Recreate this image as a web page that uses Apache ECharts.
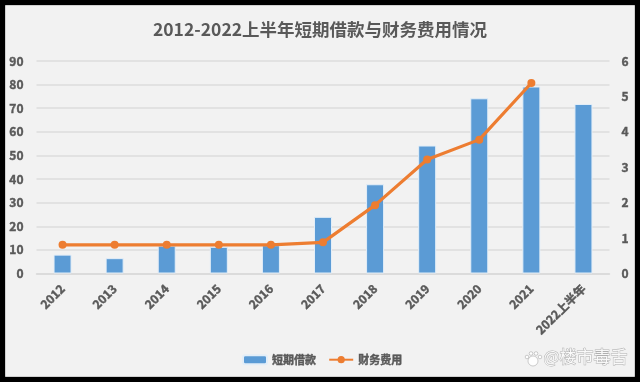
<!DOCTYPE html>
<html>
<head>
<meta charset="utf-8">
<script src="https://cdn.jsdelivr.net/npm/echarts@6/dist/echarts.min.js"></script>
<style>
html,body{margin:0;padding:0;background:#000;}
#main{width:640px;height:382px;}
</style>
</head>
<body>
<div id="main"></div>
<script>
var years = ['2012','2013','2014','2015','2016','2017','2018','2019','2020','2021','2022上半年'];
var shortLoan = [8,6.5,11.8,11.3,12,24,37.8,54.2,74.2,79.2,71.8];
var financeCost = [0.81,0.81,0.81,0.81,0.81,0.88,1.93,3.22,3.78,5.38,null];
var fontName = '"Noto Sans CJK SC"';
var textColor = '#595959';
// 粗一点的文字
var thick = {textBorderColor: textColor, textBorderWidth: 0.4};
var pawStyle = {fill: 'rgba(255,255,255,0.9)', stroke: 'rgba(140,140,140,0.6)', lineWidth: 0.7};

var myChart = echarts.init(document.getElementById('main'));
myChart.setOption({
    backgroundColor: '#000',
    animation: false,
    graphic: [
        {
            type: 'rect', z: -10,
            shape: {x: 5.5, y: 5.5, width: 629, height: 371},
            style: {fill: '#f2f2f2', stroke: '#d0d0d0', lineWidth: 1}
        },
        // 水印
        {type: 'circle', shape: {cx: 533, cy: 361, r: 5}, style: pawStyle},
        {type: 'circle', shape: {cx: 527, cy: 357, r: 1.8}, style: pawStyle},
        {type: 'circle', shape: {cx: 531, cy: 353.5, r: 1.8}, style: pawStyle},
        {type: 'circle', shape: {cx: 536, cy: 353.5, r: 1.8}, style: pawStyle},
        {type: 'circle', shape: {cx: 540, cy: 357, r: 1.8}, style: pawStyle},
        {
            type: 'text', left: 543, top: 348,
            style: {
                text: '@楼市毒舌',
                font: '17px ' + fontName,
                fill: 'rgba(255,255,255,0.9)',
                stroke: 'rgba(130,130,130,0.6)',
                lineWidth: 1
            }
        }
    ],
    title: {
        text: '2012-2022上半年短期借款与财务费用情况',
        left: 'center',
        top: 16,
        textStyle: {fontFamily: fontName, fontSize: 17.5, fontWeight: 'bold', color: textColor}
    },
    legend: {
        data: ['短期借款','财务费用'],
        left: 237,
        top: 349,
        itemGap: 12,
        itemWidth: 24,
        itemHeight: 9,
        textStyle: Object.assign({fontFamily: fontName, fontSize: 11, fontWeight: 'bold', color: textColor}, thick)
    },
    grid: {left: 36.5, right: 30.5, top: 61, bottom: 108.5},
    xAxis: {
        type: 'category',
        data: years,
        axisLine: {lineStyle: {color: '#d9d9d9', width: 1.5}},
        axisTick: {show: false},
        axisLabel: Object.assign({
            interval: 0, rotate: 45, margin: 13,
            fontFamily: fontName, fontSize: 12, fontWeight: 'bold', color: textColor
        }, thick)
    },
    yAxis: [
        {
            type: 'value', min: 0, max: 90, interval: 10,
            axisLine: {show: false},
            axisTick: {show: false},
            splitLine: {lineStyle: {color: '#dcdcdc', width: 1.5}},
            axisLabel: Object.assign({margin: 13, fontFamily: fontName, fontSize: 12, fontWeight: 'bold', color: textColor}, thick)
        },
        {
            type: 'value', min: 0, max: 6, interval: 1,
            axisLine: {show: false},
            axisTick: {show: false},
            splitLine: {show: false},
            axisLabel: Object.assign({margin: 12, fontFamily: fontName, fontSize: 12, fontWeight: 'bold', color: textColor}, thick)
        }
    ],
    series: [
        {
            name: '短期借款',
            type: 'bar',
            data: shortLoan,
            barWidth: 18,
            itemStyle: {color: '#5b9bd5', borderColor: '#e3eef8', borderWidth: 1}
        },
        {
            name: '财务费用',
            type: 'line',
            yAxisIndex: 1,
            data: financeCost,
            symbol: 'circle',
            symbolSize: 8,
            lineStyle: {color: '#ed7d31', width: 3.2},
            itemStyle: {color: '#ed7d31'}
        }
    ]
});
</script>
</body>
</html>
